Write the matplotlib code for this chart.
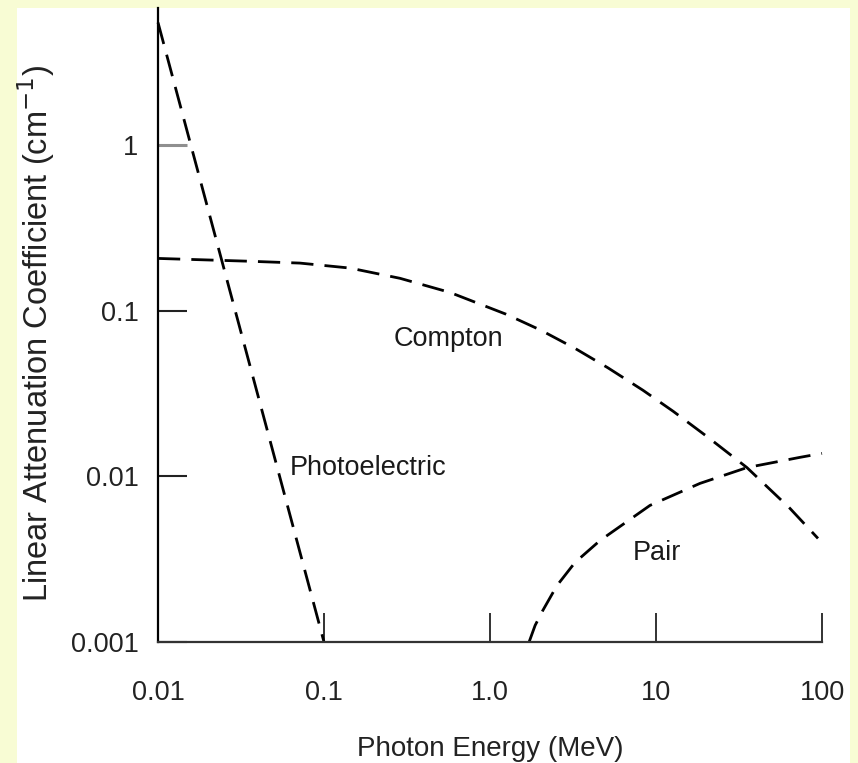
import matplotlib.pyplot as plt
from matplotlib.patches import Rectangle

plt.rcParams["font.family"] = ["Liberation Sans", "DejaVu Sans"]

# Photoelectric (straight line on log-log)
photo_e = [0.01, 0.1]
photo_mu = [5.5, 0.001]

# Compton
compton_e = [0.01, 0.0358, 0.0716, 0.1436, 0.287, 0.574, 1.25, 2.03, 3.25,
             5.14, 8.35, 12.7, 20.6, 35.3, 64.1, 94.6]
compton_mu = [0.207, 0.199, 0.194, 0.181, 0.157, 0.129, 0.0953, 0.0762, 0.0593,
              0.0452, 0.0331, 0.0247, 0.0172, 0.0113, 0.00641, 0.00422]

# Pair production
pair_e = [1.72, 1.87, 2.08, 2.53, 3.25, 4.6, 9.2, 18.4, 35.3, 73.7, 100]
pair_mu = [0.001, 0.00126, 0.00155, 0.00219, 0.00302, 0.0041, 0.00668,
           0.00907, 0.0113, 0.01303, 0.01377]

x_ticks = [0.01, 0.1, 1.0, 10, 100]
x_tick_labels = ["0.01", "0.1", "1.0", "10", "100"]
y_ticks = [0.001, 0.01, 0.1, 1]
y_tick_labels = ["0.001", "0.01", "0.1", "1"]

fig = plt.figure(figsize=(8.58, 7.63), dpi=100)
fig.patch.set_facecolor("#f8fcd4")
fig.patches.append(Rectangle((17 / 858, 0), 833 / 858, 755 / 763,
                             transform=fig.transFigure, facecolor="white",
                             edgecolor="none", zorder=-5))

ax = fig.add_axes([158 / 858, 121 / 763, 664 / 858, 634 / 763])
ax.set_facecolor("none")
ax.set_xscale("log")
ax.set_yscale("log")
ax.set_xlim(0.01, 100)
ax.set_ylim(0.001, 6.73)

dash = (0, (8, 4))
for e, mu in [(photo_e, photo_mu), (compton_e, compton_mu), (pair_e, pair_mu)]:
    ax.plot(e, mu, color="black", lw=2.0, linestyle=dash, clip_on=False)

ax.text(0.062, 0.0112, "Photoelectric", fontsize=19.5, va="center", color="#1a1a1a")
ax.text(0.558, 0.0675, "Compton", fontsize=19.5, ha="center", va="center", color="#1a1a1a")
ax.text(10.1, 0.00345, "Pair", fontsize=19.5, ha="center", va="center", color="#1a1a1a")

ax.spines["top"].set_visible(False)
ax.spines["right"].set_visible(False)
ax.spines["left"].set_linewidth(1.6)
ax.spines["bottom"].set_linewidth(1.6)
ax.spines["bottom"].set_color("#333333")

ax.set_xticks(x_ticks)
ax.set_xticklabels(x_tick_labels)
ax.set_yticks(y_ticks)
ax.set_yticklabels(y_tick_labels)
ax.minorticks_off()
ax.tick_params(axis="x", direction="in", length=21, width=1.3, pad=27,
               labelsize=19.5, colors="#222222")
ax.tick_params(axis="y", direction="in", length=21, width=1.5, pad=14,
               labelsize=19.5, colors="#222222")
one_tick = ax.yaxis.get_major_ticks()[3].tick1line
one_tick.set_markeredgecolor("#8f8f8f")
one_tick.set_markeredgewidth(2.2)

ax.set_xlabel("Photon Energy (MeV)", fontsize=20, color="#222222", labelpad=22)
ax.set_ylabel("Linear Attenuation Coefficient (cm$^{-1}$)", fontsize=23.5,
              color="#222222")
ax.yaxis.set_label_coords(-0.152, 0.487)

fig.savefig("out.png", dpi=100, facecolor=fig.get_facecolor())
